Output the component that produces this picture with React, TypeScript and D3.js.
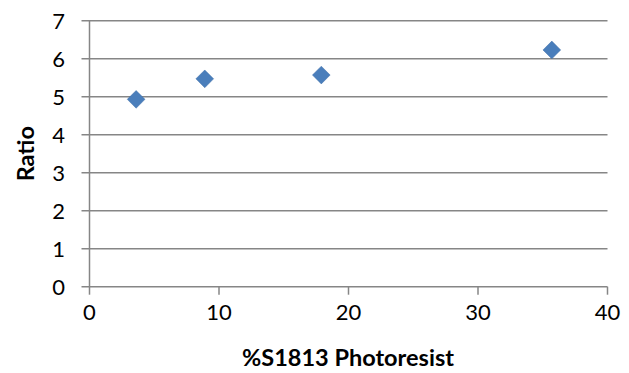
import React, { useEffect, useRef } from 'react';
import * as d3 from 'd3';

// values
const xValues = [3.6, 8.9, 17.9, 35.7];
const ratioValues = [4.93, 5.47, 5.57, 6.23];
const xTicks = [0, 10, 20, 30, 40];
const yTicks = [0, 1, 2, 3, 4, 5, 6, 7];

const W = 629;
const H = 373;

const App: React.FC = () => {
  const ref = useRef<SVGSVGElement>(null);

  useEffect(() => {
    if (!ref.current) return;
    const svg = d3.select(ref.current);
    svg.selectAll('*').remove();

    const x = d3.scaleLinear().domain([0, 40]).range([89.5, 607.5]);
    const y = d3.scaleLinear().domain([0, 7]).range([286.7, 20.7]);
    const grey = '#868686';
    const font = 'Lato, "Open Sans", sans-serif';

    // horizontal gridlines, with the little outward tick on the left
    svg.append('g')
      .selectAll('line')
      .data(yTicks)
      .enter().append('line')
        .attr('x1', x(0) - 8)
        .attr('x2', x(40))
        .attr('y1', d => y(d))
        .attr('y2', d => y(d))
        .attr('stroke', grey)
        .attr('stroke-width', 1.5);

    // y axis line
    svg.append('line')
      .attr('x1', x(0)).attr('x2', x(0))
      .attr('y1', y(7)).attr('y2', y(0))
      .attr('stroke', grey)
      .attr('stroke-width', 1.5);

    // x ticks
    svg.append('g')
      .selectAll('line')
      .data(xTicks)
      .enter().append('line')
        .attr('x1', d => x(d))
        .attr('x2', d => x(d))
        .attr('y1', y(0))
        .attr('y2', y(0) + 8)
        .attr('stroke', grey)
        .attr('stroke-width', 1.5);

    // y tick labels
    svg.append('g')
      .attr('font-family', font)
      .attr('font-size', 22)
      .attr('text-anchor', 'end')
      .selectAll('text')
      .data(yTicks)
      .enter().append('text')
        .attr('x', 65)
        .attr('y', d => y(d))
        .attr('dy', '0.36em')
        .attr('fill', '#000')
        .text(d => d);

    // x tick labels
    svg.append('g')
      .attr('font-family', font)
      .attr('font-size', 22)
      .attr('text-anchor', 'middle')
      .selectAll('text')
      .data(xTicks)
      .enter().append('text')
        .attr('x', d => x(d))
        .attr('y', 320)
        .attr('fill', '#000')
        .text(d => d);

    // axis titles
    svg.append('text')
      .attr('x', 348)
      .attr('y', 366)
      .attr('text-anchor', 'middle')
      .attr('font-family', font)
      .attr('font-weight', 'bold')
      .attr('font-size', 23.5)
      .text('%S1813 Photoresist');

    svg.append('text')
      .attr('transform', `translate(34,${(y(0) + y(7)) / 2}) rotate(-90)`)
      .attr('text-anchor', 'middle')
      .attr('font-family', font)
      .attr('font-weight', 'bold')
      .attr('font-size', 23.5)
      .text('Ratio');

    // diamond markers
    const diamond = d3.symbol().type(d3.symbolDiamond2).size(200);
    svg.append('g')
      .selectAll('path')
      .data(xValues.map((v, i) => [v, ratioValues[i]]))
      .enter().append('path')
        .attr('transform', d => `translate(${x(d[0])},${y(d[1])})`)
        .attr('d', diamond)
        .attr('fill', '#4A7EBB')
        .attr('stroke', '#3F6FA8')
        .attr('stroke-width', 0.5);
  }, []);

  return (
    <svg
      ref={ref}
      width={W}
      height={H}
      style={{ position: 'absolute', left: 0, top: 0, background: '#fff' }}
    />
  );
};

export default App;
